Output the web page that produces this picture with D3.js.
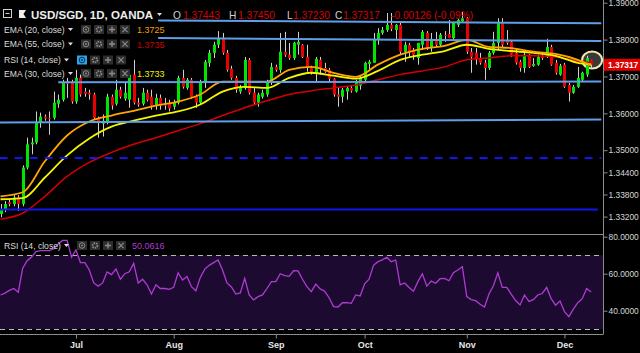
<!DOCTYPE html>
<html>
<head>
<meta charset="utf-8">
<script src="https://cdn.jsdelivr.net/npm/d3@7"></script>
<style>
html, body { margin: 0; padding: 0; background: #000; overflow: hidden; }
svg { display: block; font-family: "Liberation Sans", Arial, sans-serif; }
</style>
</head>
<body>
<div id="chart"></div>
<script>
// USD/SGD daily candles, Jun 7 - Dec 11 (bar index 0..133)
const opens = [
1.3327,1.3340,1.3359,1.3354,1.3372,1.3354,1.3453,1.3516,1.3521,1.3575,
1.3591,1.3588,1.3588,1.3626,1.3637,1.3683,1.3683,1.3632,1.3696,1.3659,
1.3656,1.3651,1.3586,1.3572,1.3575,1.3645,1.3626,1.3664,1.3640,1.3637,
1.3705,1.3629,1.3626,1.3656,1.3645,1.3621,1.3642,1.3624,1.3626,1.3618,
1.3629,1.3696,1.3669,1.3691,1.3645,1.3629,1.3683,1.3737,1.3764,1.3786,
1.3804,1.3764,1.3721,1.3696,1.3659,1.3669,1.3745,1.3656,1.3629,1.3645,
1.3651,1.3683,1.3726,1.3718,1.3767,1.3759,1.3750,1.3786,1.3786,1.3753,
1.3723,1.3710,1.3745,1.3723,1.3718,1.3694,1.3651,1.3645,1.3659,1.3669,
1.3659,1.3675,1.3691,1.3734,1.3737,1.3799,1.3818,1.3826,1.3840,1.3826,
1.3840,1.3767,1.3786,1.3772,1.3750,1.3786,1.3818,1.3780,1.3802,1.3786,
1.3813,1.3815,1.3804,1.3840,1.3850,1.3858,1.3767,1.3764,1.3750,1.3737,
1.3723,1.3764,1.3791,1.3848,1.3799,1.3794,1.3764,1.3740,1.3723,1.3759,
1.3729,1.3732,1.3756,1.3753,1.3780,1.3737,1.3705,1.3732,1.3677,1.3656,
1.3672,1.3691,1.3705,1.37443];
const highs = [
1.3354,1.3362,1.3367,1.3381,1.3378,1.3459,1.3534,1.3534,1.3605,1.3602,
1.3597,1.3605,1.3659,1.3651,1.3691,1.3696,1.3691,1.3718,1.3705,1.3669,
1.3664,1.3656,1.3591,1.3597,1.3653,1.3651,1.3691,1.3672,1.3686,1.3718,
1.3745,1.3642,1.3669,1.3664,1.3664,1.3653,1.3651,1.3642,1.3637,1.3637,
1.3702,1.3718,1.3696,1.3696,1.3651,1.3691,1.3745,1.3772,1.3794,1.3823,
1.3818,1.3772,1.3729,1.3702,1.3677,1.3753,1.3750,1.3669,1.3656,1.3664,
1.3691,1.3737,1.3732,1.3818,1.3821,1.3791,1.3794,1.3821,1.3788,1.3786,
1.3729,1.3753,1.3753,1.3737,1.3723,1.3696,1.3669,1.3669,1.3672,1.3675,
1.3691,1.3702,1.3740,1.3745,1.3818,1.3831,1.3834,1.3872,1.3872,1.3842,
1.3845,1.3794,1.3791,1.3777,1.3791,1.3826,1.3823,1.3818,1.3821,1.3818,
1.3823,1.3853,1.3848,1.3856,1.3875,1.3861,1.3777,1.3777,1.3764,1.3745,
1.3769,1.3821,1.3858,1.3858,1.3826,1.3799,1.3777,1.3745,1.3764,1.3761,
1.3750,1.3759,1.3764,1.3802,1.3786,1.3745,1.3734,1.3737,1.3683,1.3677,
1.3726,1.3713,1.3756,1.37450];
const lows = [
1.3318,1.3332,1.3348,1.3348,1.3335,1.3348,1.3448,1.3489,1.3516,1.3561,
1.3580,1.3542,1.3583,1.3615,1.3632,1.3642,1.3626,1.3626,1.3645,1.3645,
1.3637,1.3583,1.3534,1.3537,1.3570,1.3610,1.3621,1.3640,1.3634,1.3615,
1.3624,1.3618,1.3621,1.3632,1.3610,1.3610,1.3610,1.3610,1.3605,1.3610,
1.3624,1.3667,1.3664,1.3640,1.3615,1.3624,1.3669,1.3726,1.3750,1.3777,
1.3759,1.3713,1.3691,1.3656,1.3653,1.3664,1.3651,1.3624,1.3618,1.3640,
1.3645,1.3677,1.3713,1.3710,1.3753,1.3745,1.3745,1.3759,1.3750,1.3713,
1.3705,1.3683,1.3705,1.3710,1.3686,1.3645,1.3618,1.3629,1.3637,1.3656,
1.3656,1.3664,1.3686,1.3718,1.3737,1.3786,1.3813,1.3821,1.3823,1.3799,
1.3759,1.3740,1.3753,1.3745,1.3732,1.3772,1.3772,1.3767,1.3780,1.3780,
1.3794,1.3804,1.3799,1.3834,1.3848,1.3761,1.3710,1.3732,1.3732,1.3691,
1.3718,1.3759,1.3772,1.3777,1.3786,1.3753,1.3732,1.3713,1.3710,1.3723,
1.3726,1.3729,1.3745,1.3750,1.3729,1.3705,1.3702,1.3669,1.3632,1.3653,
1.3669,1.3686,1.3699,1.37230];
const closes = [
1.3340,1.3354,1.3354,1.3372,1.3354,1.3453,1.3516,1.3521,1.3575,1.3591,
1.3586,1.3587,1.3629,1.3637,1.3683,1.3680,1.3632,1.3696,1.3651,1.3653,
1.3651,1.3588,1.3575,1.3580,1.3645,1.3621,1.3664,1.3645,1.3656,1.3705,
1.3629,1.3624,1.3656,1.3637,1.3621,1.3642,1.3621,1.3622,1.3613,1.3629,
1.3696,1.3672,1.3691,1.3645,1.3629,1.3683,1.3740,1.3764,1.3786,1.3804,
1.3764,1.3718,1.3696,1.3664,1.3669,1.3745,1.3656,1.3629,1.3651,1.3656,
1.3683,1.3726,1.3718,1.3767,1.3759,1.3750,1.3791,1.3794,1.3753,1.3723,
1.3710,1.3748,1.3723,1.3713,1.3694,1.3651,1.3645,1.3664,1.3669,1.3661,
1.3686,1.3696,1.3737,1.3740,1.3799,1.3818,1.3826,1.3840,1.3829,1.3840,
1.3767,1.3786,1.3767,1.3759,1.3791,1.3821,1.3777,1.3802,1.3786,1.3813,
1.3812,1.3804,1.3845,1.3853,1.3858,1.3767,1.3753,1.3750,1.3737,1.3723,
1.3764,1.3791,1.3848,1.3786,1.3791,1.3759,1.3737,1.3723,1.3759,1.3726,
1.3734,1.3753,1.3750,1.3780,1.3732,1.3710,1.3729,1.3672,1.3656,1.3672,
1.3696,1.3710,1.3750,1.37317];

// RSI(14) per bar
const rsi = [
48.5,49.5,51,52,50,63,67,69,72,72.5,
72.5,72.5,73.5,76,78,78,69,72.8,66,66,
62,55,53.3,55,61,59.5,62.5,57,60,61,
65.6,55,57,54,49,54,52,52,51.5,52.6,
60.5,56.6,58.5,53,50.8,58,62.5,64.5,66,67.4,
62,55,52.8,49,49.6,57.5,48.5,45.8,47.6,48.5,
52,55.7,55.7,60,59,58.6,61.6,61.5,57,53,
50.3,54.4,51.8,50.5,47,42.2,42,44.3,44.4,44,
48.5,48,54.5,57,64.5,66.5,67.5,68.9,66.5,67.4,
54,55,52.5,50.5,55.7,60,53.3,56,54.8,57.3,
57.5,56.2,60.5,62,63.8,47.6,46,45.4,43.5,42,
49,53.5,60.5,52.6,52.6,49,45.5,43.1,48.5,45,
46,48.5,49.3,52.6,46.5,43,45.2,39.5,36.8,40.8,
44.3,46.5,52,50.06];

// EMA values read at these bars
const emaBars = [0,5,10,15,20,25,30,35,40,45,50,55,60,65,70,75,80,85,90,95,100,105,110,115,120,125,130,133];
const ema20 = [1.3375,1.3386,1.3470,1.3540,1.3578,1.3594,1.3607,1.3621,1.3632,1.3651,1.3686,1.3686,1.3686,1.3718,1.3726,1.3710,1.3699,1.3732,1.3759,1.3775,1.3783,1.3799,1.3780,1.3777,1.3767,1.3761,1.3745,1.3730];
const ema30 = [1.3367,1.3370,1.3426,1.3486,1.3532,1.3564,1.3580,1.3594,1.3605,1.3624,1.3659,1.3672,1.3669,1.3696,1.3710,1.3702,1.3694,1.3715,1.3745,1.3759,1.3769,1.3786,1.3775,1.3769,1.3764,1.3756,1.3737,1.3733];
const ema55 = [1.3313,1.3329,1.3375,1.3429,1.3467,1.3494,1.3516,1.3534,1.3553,1.3572,1.3594,1.3615,1.3634,1.3651,1.3661,1.3669,1.3677,1.3691,1.3705,1.3715,1.3726,1.3745,1.3750,1.3756,1.3756,1.3753,1.3742,1.3737];

// drawn trend lines and levels
const trendStartBar = [35.5, 35.5, 13, -0.2];
const trendEndBar = [135.3, 135.3, 135.3, 135.3];
const trendStartPrice = [1.3852, 1.3804, 1.3684, 1.3575];
const trendEndPrice = [1.3844, 1.3796, 1.3686, 1.3583];
const levelPrices = [1.3479, 1.3339];
const levelEndBar = [135.3, 134.5];

const months = ["Jul", "Aug", "Sep", "Oct", "Nov", "Dec"];
const monthBar = [17, 39, 62, 82, 105, 127];
const priceTicks = [1.39, 1.38, 1.37, 1.36, 1.35, 1.344, 1.338, 1.332];
const rsiTicks = [80, 60, 40];

const width = 640, height = 353;
const axisX = 603;
const mainBottom = 234.5;
const rsiBottom = 334.5;

const svg = d3.select("#chart").append("svg")
    .attr("width", width).attr("height", height)
    .attr("viewBox", [0, 0, width, height]);

svg.append("rect").attr("width", width).attr("height", height).attr("fill", "#000");

const x = d3.scaleLinear().domain([0, 133]).range([0.5, 591.1]);
const y = d3.scaleLinear().domain([1.332, 1.39]).range([216.6, 2.7]);
const yr = d3.scaleLinear().domain([40, 80]).range([310.7, 236.7]);

const defs = svg.append("defs");
defs.append("clipPath").attr("id", "clipMain")
    .append("rect").attr("x", 0).attr("y", 0).attr("width", axisX).attr("height", mainBottom);
defs.append("clipPath").attr("id", "clipRsi")
    .append("rect").attr("x", 0).attr("y", mainBottom + 0.5).attr("width", axisX).attr("height", rsiBottom - mainBottom - 1);

// ---------- RSI pane ----------
const rsiG = svg.append("g").attr("clip-path", "url(#clipRsi)");
rsiG.append("rect")
    .attr("x", 0).attr("width", axisX)
    .attr("y", yr(70)).attr("height", yr(30) - yr(70))
    .attr("fill", "#1d0a30");
rsiG.selectAll(".band").data([70, 30]).join("line")
    .attr("x1", 0).attr("x2", axisX)
    .attr("y1", d => Math.round(yr(d)) + 0.5).attr("y2", d => Math.round(yr(d)) + 0.5)
    .attr("stroke", "#b8b8b8").attr("stroke-dasharray", "5,4");
rsiG.append("path")
    .datum(rsi)
    .attr("fill", "none").attr("stroke", "#b03ad4").attr("stroke-width", 1.3)
    .attr("d", d3.line().x((d, i) => x(i)).y(d => yr(d)));

// ---------- main pane ----------
const main = svg.append("g").attr("clip-path", "url(#clipMain)");

// highlight around the last bar
main.append("ellipse")
    .attr("cx", x(133) + 1).attr("cy", y(opens[133]))
    .attr("rx", 10).attr("ry", 8.5)
    .attr("fill", "rgba(95,95,95,0.6)")
    .attr("stroke", "#f2e9b0").attr("stroke-width", 2);

const bars = d3.range(opens.length);
const candle = main.selectAll(".candle").data(bars).join("g").attr("class", "candle");
candle.append("line")
    .attr("x1", i => Math.round(x(i)) + 0.5).attr("x2", i => Math.round(x(i)) + 0.5)
    .attr("y1", i => y(highs[i])).attr("y2", i => y(lows[i]))
    .attr("stroke", "#cfcfcf").attr("stroke-width", 1);
candle.append("rect")
    .attr("x", i => Math.round(x(i)) - 1)
    .attr("width", 3)
    .attr("y", i => y(Math.max(opens[i], closes[i])))
    .attr("height", i => Math.max(1, Math.abs(y(opens[i]) - y(closes[i]))))
    .attr("fill", i => closes[i] >= opens[i] ? "#00e600" : "#ea0000");

// moving averages
const emaLine = d3.line().x(d => x(d[0])).y(d => y(d[1])).curve(d3.curveMonotoneX);
[[ema55, "#d40000", 1.5], [ema30, "#f5f500", 1.8], [ema20, "#ffa500", 1.8]].forEach(([vals, col, w]) => {
    main.append("path")
        .datum(emaBars.map((b, k) => [b, vals[k]]))
        .attr("fill", "none").attr("stroke", col).attr("stroke-width", w)
        .attr("d", emaLine);
});

// trend lines
main.selectAll(".trend").data(trendStartBar).join("line")
    .attr("x1", (d, i) => x(trendStartBar[i])).attr("x2", (d, i) => x(trendEndBar[i]))
    .attr("y1", (d, i) => y(trendStartPrice[i])).attr("y2", (d, i) => y(trendEndPrice[i]))
    .attr("stroke", "#5f9ee8").attr("stroke-width", 2);
main.selectAll(".level").data(levelPrices).join("line")
    .attr("x1", x(-0.2)).attr("x2", (d, i) => x(levelEndBar[i]))
    .attr("y1", d => y(d)).attr("y2", d => y(d))
    .attr("stroke", "#1414f0").attr("stroke-width", 2)
    .attr("stroke-dasharray", (d, i) => i === 0 ? "8,7" : null);

// ---------- frames & axes ----------
svg.append("line").attr("x1", 0).attr("x2", axisX).attr("y1", mainBottom).attr("y2", mainBottom)
    .attr("stroke", "#8c8c8c");
svg.append("line").attr("x1", 0).attr("x2", axisX).attr("y1", rsiBottom).attr("y2", rsiBottom)
    .attr("stroke", "#8c8c8c");
svg.append("line").attr("x1", axisX + 0.5).attr("x2", axisX + 0.5).attr("y1", 0).attr("y2", rsiBottom)
    .attr("stroke", "#8c8c8c");

function styleAxis(g) {
    g.select(".domain").remove();
    g.selectAll(".tick line").attr("stroke", "#8c8c8c");
    g.selectAll(".tick text").attr("fill", "#d6d6d6").attr("font-size", 8.4)
        .attr("font-family", "'Liberation Sans', Arial, sans-serif");
}

svg.append("g").attr("transform", `translate(${axisX + 0.5},0)`)
    .call(d3.axisRight(y).tickValues(priceTicks).tickFormat(d3.format(".5f")).tickSize(4).tickPadding(1))
    .call(styleAxis);
svg.append("g").attr("transform", `translate(${axisX + 0.5},0)`)
    .call(d3.axisRight(yr).tickValues(rsiTicks).tickFormat(d3.format(".4f")).tickSize(4).tickPadding(1))
    .call(styleAxis);
svg.append("g").attr("transform", `translate(0,${rsiBottom})`)
    .call(d3.axisBottom(x).tickValues(monthBar).tickFormat((d, i) => months[i]).tickSize(4).tickPadding(3))
    .call(styleAxis)
    .call(g => g.selectAll(".tick text").attr("font-size", 9).attr("font-weight", "bold").attr("fill", "#e6e6e6"));

// last price tag
const lastY = y(closes[closes.length - 1]);
svg.append("rect").attr("x", axisX + 1).attr("y", lastY - 6).attr("width", width - axisX - 1).attr("height", 12)
    .attr("fill", "#e00000");
svg.append("text").attr("x", axisX + 5).attr("y", lastY + 3.2)
    .attr("fill", "#fff").attr("font-size", 8.4).attr("font-weight", "bold")
    .text(d3.format(".5f")(closes[closes.length - 1]));

// ---------- legends ----------
const leg = svg.append("g");
leg.append("rect").attr("x", 3.5).attr("y", 9.5).attr("width", 8).attr("height", 8)
    .attr("fill", "none").attr("stroke", "#cfcfcf");
leg.append("line").attr("x1", 5.5).attr("x2", 9.5).attr("y1", 13.5).attr("y2", 13.5).attr("stroke", "#cfcfcf");
leg.append("path").attr("d", "M19,10H26L23.5,14L26,18H19Z").attr("fill", "#eee");
leg.append("text").attr("x", 31).attr("y", 18.5).attr("fill", "#eeeeee")
    .attr("font-size", 11.5).attr("font-weight", "bold").text("USD/SGD, 1D, OANDA");
leg.append("path").attr("d", "M157,13H162L159.5,16Z").attr("fill", "#ddd");

const ohlcLabels = ["O", "H", "L", "C"];
const ohlcX = [173, 229, 287, 335];
const ohlcGap = [10, 9, 6, 8];
const lastBar = opens.length - 1;
const ohlcVals = [opens[lastBar], highs[lastBar], lows[lastBar], closes[lastBar]];
ohlcLabels.forEach((lab, k) => {
    leg.append("text").attr("x", ohlcX[k]).attr("y", 18.5).attr("fill", "#cfcfcf")
        .attr("font-size", 10.2).text(lab);
    leg.append("text").attr("x", ohlcX[k] + ohlcGap[k]).attr("y", 18.5).attr("fill", "#d90000")
        .attr("font-size", 10.2).text(d3.format(".5f")(ohlcVals[k]));
});
leg.append("text").attr("x", 391).attr("y", 18.5).attr("fill", "#d90000")
    .attr("font-size", 10.2).text("-0.00126 (-0.09%)");

function icons(g, x0, yc, active) {
    for (let k = 0; k < 4; k++) {
        const bx = x0 + k * 13, cx = bx + 5;
        const on = active && k === 0;
        const col = on ? "#0d2d4a" : "#8a8a8a";
        g.append("rect").attr("x", bx).attr("y", yc - 4.5).attr("width", 10).attr("height", 9)
            .attr("fill", on ? "#29a6e8" : "#2d2d2d");
        if (k === 0) {
            g.append("circle").attr("cx", cx).attr("cy", yc).attr("r", 2.8).attr("fill", "none").attr("stroke", col);
            g.append("circle").attr("cx", cx).attr("cy", yc).attr("r", 1).attr("fill", col);
        } else if (k === 1) {
            g.append("circle").attr("cx", cx).attr("cy", yc).attr("r", 2.4).attr("fill", "none")
                .attr("stroke", col).attr("stroke-width", 1.8).attr("stroke-dasharray", "1.4,0.8");
        } else if (k === 2) {
            g.append("path").attr("d", `M${cx - 3},${yc}H${cx + 3}M${cx},${yc - 3}V${yc + 3}`)
                .attr("stroke", col).attr("stroke-width", 1.4);
        } else {
            g.append("path").attr("d", `M${cx - 2.6},${yc - 2.6}L${cx + 2.6},${yc + 2.6}M${cx + 2.6},${yc - 2.6}L${cx - 2.6},${yc + 2.6}`)
                .attr("stroke", col).attr("stroke-width", 1.2);
        }
    }
}

const studyNames = ["EMA (20, close)", "EMA (55, close)", "RSI (14, close)", "EMA (30, close)"];
const studyValues = ["1.3725", "1.3735", "", "1.3733"];
const studyColors = ["#f4a000", "#cc0000", "", "#f0f000"];
const rowY = [29.5, 44, 60, 73.5];
studyNames.forEach((name, k) => {
    const isRsi = name.startsWith("RSI");
    leg.append("text").attr("x", 4).attr("y", rowY[k] + 3).attr("fill", "#dcdcdc")
        .attr("font-size", 8.6).text(name);
    const ax = isRsi ? 64 : 68;
    leg.append("path").attr("d", `M${ax},${rowY[k] - 1.5}H${ax + 5}L${ax + 2.5},${rowY[k] + 1.5}Z`).attr("fill", "#ddd");
    icons(leg, isRsi ? 77 : 81, rowY[k], isRsi);
    if (studyValues[k]) {
        leg.append("text").attr("x", 137).attr("y", rowY[k] + 3.5).attr("fill", studyColors[k])
            .attr("font-size", 9).text(studyValues[k]);
    }
});

// RSI pane legend
const rsiLegY = 245.5;
leg.append("text").attr("x", 4).attr("y", rsiLegY + 3).attr("fill", "#dcdcdc")
    .attr("font-size", 8.6).text("RSI (14, close)");
leg.append("path").attr("d", `M64,${rsiLegY - 1.5}H69L66.5,${rsiLegY + 1.5}Z`).attr("fill", "#ddd");
icons(leg, 77, rsiLegY, false);
leg.append("text").attr("x", 132).attr("y", rsiLegY + 3.5).attr("fill", "#b03ad4")
    .attr("font-size", 9).text(d3.format(".4f")(50.0616));
</script>
</body>
</html>
